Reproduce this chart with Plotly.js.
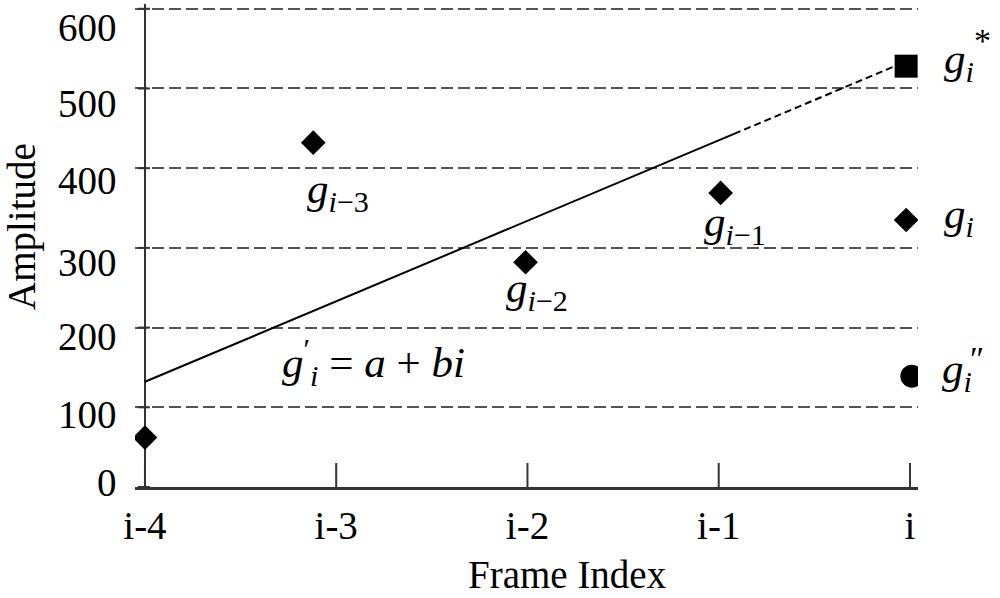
<!DOCTYPE html>
<html>
<head>
<meta charset="utf-8">
<script src="https://cdn.plot.ly/plotly-3.0.1.min.js"></script>
<style>html,body{margin:0;padding:0;background:#fff;}#chart{width:1000px;height:598px;}</style>
</head>
<body>
<div id="chart"></div>
<script>
// ---- data ----
const frameTicks = [0, 1, 2, 3, 4];
const frameLabels = ['i-4', 'i-3', 'i-2', 'i-1', 'i'];
const ampTicks = [0, 100, 200, 300, 400, 500, 600];

// observed amplitudes g_{i-4} .. g_i
const obsX = [0, 0.88, 1.99, 3.01, 3.98];
const obsY = [62, 432, 282, 369, 335];
// predicted g_i* (square) and g_i'' (circle)
const predX = [3.98];
const predY = [528];
const altX = [4.01];
const altY = [139];
// regression line g'_i = a + b i : fitted part and extrapolated part
const fitX = [0, 3.08];
const fitY = [132, 443];
const extX = [3.08, 3.93];
const extY = [443, 529];

const xTitle = 'Frame Index';
const yTitle = 'Amplitude';

// ---- layout helpers (pixel -> paper) ----
const M = {l: 135, r: 82, t: 4, b: 111};
const xRange = [-0.052, 4.042];
const yRange = [0, 606];
const plotW = 1000 - M.l - M.r, plotH = 598 - M.t - M.b;
const px2x = px => (px - M.l) / plotW;
const py2y = py => (598 - M.b - py) / plotH;
// vertical pixel centres of the amplitude tick labels, as placed in the figure
const yLabelPix = [482, 414, 336, 262, 180, 104, 27];

const serif = 'Liberation Serif, Times New Roman, serif';
const tickFont = {family: serif, size: 39, color: '#000'};
const gFont = {family: serif, size: 43, color: '#000'};
const markFont = {family: serif, size: 34, color: '#000'};

const traces = [
  {x: fitX, y: fitY, mode: 'lines', line: {color: '#000', width: 2}, hoverinfo: 'skip'},
  {x: extX, y: extY, mode: 'lines', line: {color: '#000', width: 2, dash: '7px,4px'}, hoverinfo: 'skip'},
  {x: obsX, y: obsY, mode: 'markers', marker: {symbol: 'diamond', size: 19, color: '#000'}},
  {x: predX, y: predY, mode: 'markers', marker: {symbol: 'square', size: 23, color: '#000'}},
  {x: altX, y: altY, mode: 'markers', marker: {symbol: 'circle', size: 23, color: '#000'}}
];

const shapes = [];
ampTicks.forEach(v => shapes.push({type: 'line', xref: 'x', yref: 'y', xsizemode: 'pixel', xanchor: 0,
  x0: -7, x1: 5, y0: v, y1: v, line: {color: '#333', width: 2}}));
frameTicks.forEach(v => shapes.push({type: 'line', xref: 'x', yref: 'y', ysizemode: 'pixel', yanchor: 0,
  y0: -10, y1: 24, x0: v, x1: v, line: {color: '#333', width: 2}}));

function lab(text, px, py, font, anchor, angle) {
  return {text: text, xref: 'paper', yref: 'paper', x: px2x(px), y: py2y(py), showarrow: false,
    xanchor: anchor || 'left', yanchor: 'middle', font: font || gFont, textangle: angle || 0};
}

const annotations = [
  lab('<i>g</i><sub><i>i</i>\u22123</sub>', 305, 192),
  lab('<i>g</i><sub><i>i</i>\u22122</sub>', 504, 291),
  lab('<i>g</i><sub><i>i</i>\u22121</sub>', 702, 225),
  lab('<i>g</i><sub><i>i</i></sub>', 942, 217),
  lab('<i>g</i><sub><i>i</i></sub>', 942, 62),
  lab('*', 982, 40, markFont, 'center'),
  lab('<i>g</i><sub><i>i</i></sub>', 940, 372),
  lab('\u2033', 977, 358, markFont, 'center'),
  lab('<i>g</i><sup>\u2032</sup><sub><i>i</i></sub> = <i>a</i> + <i>bi</i>', 280, 362),
  lab(xTitle, 567, 574, tickFont, 'center'),
  lab(yTitle, 22, 227, tickFont, 'center', -90)
];
ampTicks.forEach((v, k) => annotations.push(lab(String(v), 119, yLabelPix[k], tickFont, 'right')));

const layout = {
  width: 1000, height: 598,
  margin: M,
  paper_bgcolor: '#fff', plot_bgcolor: '#fff',
  showlegend: false,
  xaxis: {
    range: xRange, tickmode: 'array', tickvals: frameTicks, ticktext: frameLabels,
    showgrid: false, zeroline: true, zerolinecolor: '#333', zerolinewidth: 2.5,
    showline: true, linecolor: '#333', linewidth: 2.5, ticks: '',
    tickfont: tickFont, ticklabelstandoff: 3
  },
  yaxis: {
    range: yRange, tickmode: 'array', tickvals: ampTicks,
    showgrid: true, gridcolor: '#555', gridwidth: 2, griddash: '12px,5px',
    zeroline: false, showline: false, ticks: '', showticklabels: false
  },
  shapes: shapes,
  annotations: annotations
};

Plotly.newPlot('chart', traces, layout, {staticPlot: true, displayModeBar: false});
</script>
</body>
</html>
